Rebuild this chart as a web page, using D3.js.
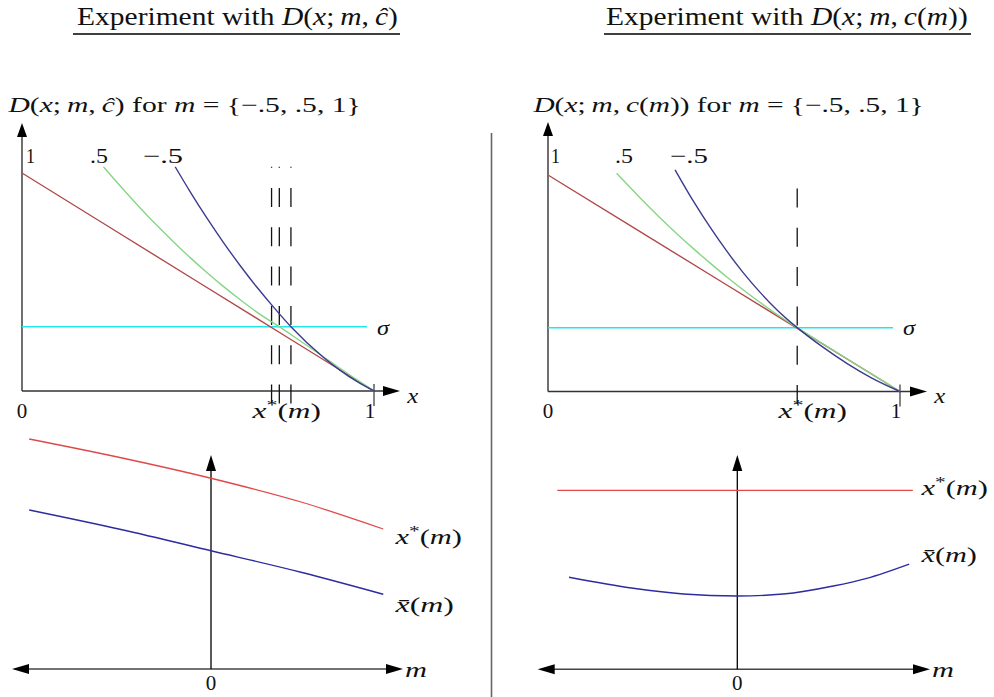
<!DOCTYPE html>
<html>
<head>
<meta charset="utf-8">
<script src="https://cdn.jsdelivr.net/npm/d3@7"></script>
<style>
  body { margin: 0; background: #fff; }
  text { font-family: "Liberation Serif", "DejaVu Serif", serif; fill: #111; }
</style>
</head>
<body>
<svg id="fig" width="994" height="697"></svg>
<script>
// ---------------- data ----------------
// curves D(x; m, .) sampled as [x, D]
const mTickLabels = ["1", ".5", "\u2212.5"];
const sigmaLevel = 0.295;

const redCurve = [[0, 1], [0.5, 0.5], [1, 0]];

const greenHat = [[0.231, 1.029], [0.288, 0.924], [0.335, 0.841], [0.383, 0.760], [0.430, 0.685],
  [0.477, 0.613], [0.525, 0.544], [0.572, 0.480], [0.619, 0.420], [0.667, 0.362], [0.731, 0.295],
  [0.8, 0.219], [0.85, 0.164], [0.9, 0.108], [0.95, 0.053], [1, 0]];
const blueHat = [[0.435, 1.029], [0.477, 0.916], [0.525, 0.794], [0.572, 0.682], [0.619, 0.577],
  [0.667, 0.477], [0.714, 0.386], [0.764, 0.295], [0.856, 0.155], [0.903, 0.096], [0.95, 0.045], [1, 0]];
const xStarHat = [0.709, 0.731, 0.764];

const greenCm = [[0.195, 1.008], [0.271, 0.879], [0.318, 0.803], [0.366, 0.729], [0.413, 0.660],
  [0.460, 0.594], [0.508, 0.529], [0.555, 0.469], [0.602, 0.412], [0.650, 0.357], [0.708, 0.295],
  [0.78, 0.221], [0.85, 0.150], [0.92, 0.080], [1, 0]];
const blueCm = [[0.361, 1.024], [0.413, 0.879], [0.460, 0.760], [0.508, 0.648], [0.555, 0.548],
  [0.602, 0.459], [0.650, 0.378], [0.708, 0.295], [0.78, 0.206], [0.85, 0.129], [0.92, 0.062], [1, 0]];
const xStarCm = [0.708];

// x*(m) and x-bar(m) as functions of m, sampled as [m, value]
const xStarOfMHat = [[-1.01, 0.92], [-0.5, 0.845], [0, 0.763], [0.5, 0.668], [0.957, 0.56]];
const xBarOfMHat = [[-1.01, 0.636], [-0.5, 0.558], [0, 0.473], [0.5, 0.387], [0.957, 0.299]];
const xStarOfMCm = [[-1.0, 0.716], [0.975, 0.716]];
const xBarOfMCm = [[-0.935, 0.368], [-0.578, 0.324], [-0.30, 0.301], [0, 0.293], [0.255, 0.301],
  [0.533, 0.333], [0.719, 0.364], [0.955, 0.421]];

// ---------------- styles ----------------
const C = {
  red: "#b34a4a", green: "#86d686", blue: "#3b3b90", cyan: "#22e6ee",
  redB: "#e04848", blueB: "#2c2ca0", axis: "#333"
};

const svg = d3.select("#fig");
const FS = 21;

// math-style text built from [string, style] parts; "i" = italic, "^" = superscript
function mathText(parent, x, y, parts, size) {
  const t = parent.append("text").attr("x", x).attr("y", y).attr("font-size", size);
  let shift = 0;
  parts.forEach(([s, st]) => {
    const sp = t.append("tspan").text(s);
    if (st && st.includes("i")) sp.attr("font-style", "italic");
    if (st && st.includes("^")) {
      sp.attr("font-size", size * 0.7).attr("dy", -size * 0.38);
      shift = size * 0.38;
    } else if (shift) {
      sp.attr("dy", shift); shift = 0;
    }
  });
  return t;
}

// stretch a text horizontally so that it spans the given width from its left edge
function fit(t, width) {
  const b = t.node().getBBox();
  const s = width / b.width;
  t.attr("transform", `translate(${b.x},0) scale(${s},1) translate(${-b.x},0)`);
  return t;
}

function arrowHead(parent, tip, dir, len, half) {
  const [x, y] = tip;
  let pts;
  if (dir === "up") pts = [[x, y], [x - half, y + len], [x + half, y + len]];
  if (dir === "right") pts = [[x, y], [x - len, y - half], [x - len, y + half]];
  if (dir === "left") pts = [[x, y], [x + len, y - half], [x + len, y + half]];
  parent.append("path").attr("d", "M" + pts.map(p => p.join(",")).join("L") + "Z").attr("fill", "#000");
}

const xStarParts = [["x", "i"], ["*", "^"], ["("], ["m", "i"], [")"]];
const xBarParts = [["x\u0304", "i"], ["("], ["m", "i"], [")"]];

// ---------------- titles ----------------
function title(x, y, parts, w, ulx0, ulx1) {
  fit(mathText(svg, x, y, parts, 25), w);
  svg.append("line").attr("x1", ulx0).attr("x2", ulx1).attr("y1", 34).attr("y2", 34)
    .attr("stroke", "#000").attr("stroke-width", 1.6);
}
title(77, 25, [["Experiment with "], ["D", "i"], ["("], ["x", "i"], [";\u2009"], ["m", "i"], [",\u2009"], ["\u0109", "i"], [")"]], 321, 73, 400);
title(606, 25, [["Experiment with "], ["D", "i"], ["("], ["x", "i"], [";\u2009"], ["m", "i"], [",\u2009"], ["c", "i"], ["("], ["m", "i"], ["))"]], 362, 604, 971);

// separator
svg.append("line").attr("x1", 491.5).attr("x2", 491.5).attr("y1", 133).attr("y2", 697)
  .attr("stroke", "#666").attr("stroke-width", 1.6);

// ---------------- top panels ----------------
function topPanel(cfg) {
  const g = svg.append("g");
  const x = d3.scaleLinear().domain([0, 1]).range([cfg.x0, cfg.x1]);
  const y = d3.scaleLinear().domain([0, 1]).range([cfg.y0, cfg.y1]);
  const clipId = "clip" + cfg.id;
  svg.append("clipPath").attr("id", clipId).append("rect")
    .attr("x", cfg.x0 - 2).attr("y", cfg.clipTop).attr("width", cfg.x1 - cfg.x0 + 40).attr("height", 300);

  // heading label
  fit(mathText(g, cfg.labelX, 112, cfg.label, FS), cfg.labelW);

  // axes
  g.append("line").attr("x1", x(0)).attr("x2", x(0)).attr("y1", y(0)).attr("y2", cfg.yTip + 12)
    .attr("stroke", C.axis).attr("stroke-width", 1.4);
  arrowHead(g, [x(0), cfg.yTip], "up", 14, 5);
  g.append("line").attr("x1", x(0)).attr("x2", cfg.xTip - 12).attr("y1", y(0)).attr("y2", y(0))
    .attr("stroke", C.axis).attr("stroke-width", 1.4);
  arrowHead(g, [cfg.xTip, y(0)], "right", 17, 5);
  g.append("line").attr("x1", x(1)).attr("x2", x(1)).attr("y1", y(0) - 7).attr("y2", y(0) + 15)
    .attr("stroke", C.axis).attr("stroke-width", 1.2);

  const cg = g.append("g").attr("clip-path", `url(#${clipId})`);
  // dashed x*(m) markers
  cg.selectAll("line.xs").data(cfg.xStar).join("line")
    .attr("x1", d => x(d)).attr("x2", d => x(d)).attr("y1", y(0) + 12.5).attr("y2", cfg.clipTop)
    .attr("stroke", "#111").attr("stroke-width", 1.3).attr("stroke-dasharray", "19,20.3");

  // sigma
  cg.append("line").attr("x1", x(0)).attr("x2", cfg.sigmaEnd).attr("y1", y(sigmaLevel)).attr("y2", y(sigmaLevel))
    .attr("stroke", C.cyan).attr("stroke-width", 1.5);

  const line = d3.line().x(d => x(d[0])).y(d => y(d[1])).curve(d3.curveMonotoneX);
  [[redCurve, C.red], [cfg.green, C.green], [cfg.blue, C.blue]].forEach(([data, col]) => {
    cg.append("path").attr("d", line(data)).attr("fill", "none").attr("stroke", col).attr("stroke-width", 1.4);
  });

  // m labels above curves
  cfg.mLabel.forEach(([lx, w], i) => {
    fit(g.append("text").attr("x", lx).attr("y", 163).attr("font-size", FS).text(mTickLabels[i]), w);
  });
  // sigma label
  fit(mathText(g, cfg.sigmaEnd + 10, 335, [["\u03c3", "i"]], FS), 14);
  // tick labels
  g.append("text").attr("x", x(0)).attr("y", 418).attr("font-size", FS).attr("text-anchor", "middle").text("0");
  g.append("text").attr("x", x(1) - 4).attr("y", 418).attr("font-size", FS).attr("text-anchor", "middle").text("1");
  fit(mathText(g, cfg.xTip + 7, 403, [["x", "i"]], FS), 13);
  fit(mathText(g, cfg.xsLabelX, 418, xStarParts, FS), 70);
}

topPanel({
  id: "L", x0: 22, x1: 374, y0: 391, y1: 173, clipTop: 166.5, yTip: 123, xTip: 400,
  sigmaEnd: 367, green: greenHat, blue: blueHat, xStar: xStarHat,
  mLabel: [[26, 9], [90, 18], [143, 40]], xsLabelX: 252, labelX: 8, labelW: 354,
  label: [["D", "i"], ["("], ["x", "i"], [";\u2009"], ["m", "i"], [",\u2009"], ["\u0109", "i"], [") for "], ["m", "i"], [" = {\u2212.5, .5, 1}"]]
});
topPanel({
  id: "R", x0: 548, x1: 900, y0: 391.5, y1: 175, clipTop: 168.5, yTip: 122, xTip: 927,
  sigmaEnd: 893, green: greenCm, blue: blueCm, xStar: xStarCm,
  mLabel: [[551, 9], [615, 18], [670, 38]], xsLabelX: 778, labelX: 533, labelW: 392,
  label: [["D", "i"], ["("], ["x", "i"], [";\u2009"], ["m", "i"], [",\u2009"], ["c", "i"], ["("], ["m", "i"], [")) for "], ["m", "i"], [" = {\u2212.5, .5, 1}"]]
});

// ---------------- bottom panels ----------------
function bottomPanel(cfg) {
  const g = svg.append("g");
  const mx = d3.scaleLinear().domain([-1, 1]).range([cfg.m0 - 180, cfg.m0 + 180]);
  const vy = d3.scaleLinear().domain([0, 1]).range([cfg.base, cfg.base - 250]);

  g.append("line").attr("x1", cfg.hLeft + 14).attr("x2", cfg.hRight - 14).attr("y1", vy(0)).attr("y2", vy(0))
    .attr("stroke", "#444").attr("stroke-width", 1.4);
  arrowHead(g, [cfg.hLeft, vy(0)], "left", 17, 5);
  arrowHead(g, [cfg.hRight, vy(0)], "right", 17, 5);
  g.append("line").attr("x1", mx(0)).attr("x2", mx(0)).attr("y1", vy(0)).attr("y2", 467)
    .attr("stroke", "#000").attr("stroke-width", 1.3);
  arrowHead(g, [mx(0), 455], "up", 16, 5);

  const line = d3.line().x(d => mx(d[0])).y(d => vy(d[1])).curve(d3.curveMonotoneX);
  g.append("path").attr("d", line(cfg.star)).attr("fill", "none").attr("stroke", C.redB).attr("stroke-width", 1.3);
  g.append("path").attr("d", line(cfg.bar)).attr("fill", "none").attr("stroke", C.blueB).attr("stroke-width", 1.4);

  g.append("text").attr("x", mx(0)).attr("y", 690).attr("font-size", FS).attr("text-anchor", "middle").text("0");
  fit(mathText(g, cfg.hRight + 2, 677, [["m", "i"]], FS), 22);
  fit(mathText(g, cfg.labX, cfg.starY, xStarParts, FS), 68);
  fit(mathText(g, cfg.labX, cfg.barY, xBarParts, FS), cfg.barW);
}

bottomPanel({ m0: 211, base: 669, hLeft: 12, hRight: 403, star: xStarOfMHat, bar: xBarOfMHat,
  labX: 395, starY: 544, barY: 612, barW: 60 });
bottomPanel({ m0: 737.3, base: 669.3, hLeft: 537.7, hRight: 930, star: xStarOfMCm, bar: xBarOfMCm,
  labX: 921, starY: 495, barY: 562, barW: 57 });
</script>
</body>
</html>
